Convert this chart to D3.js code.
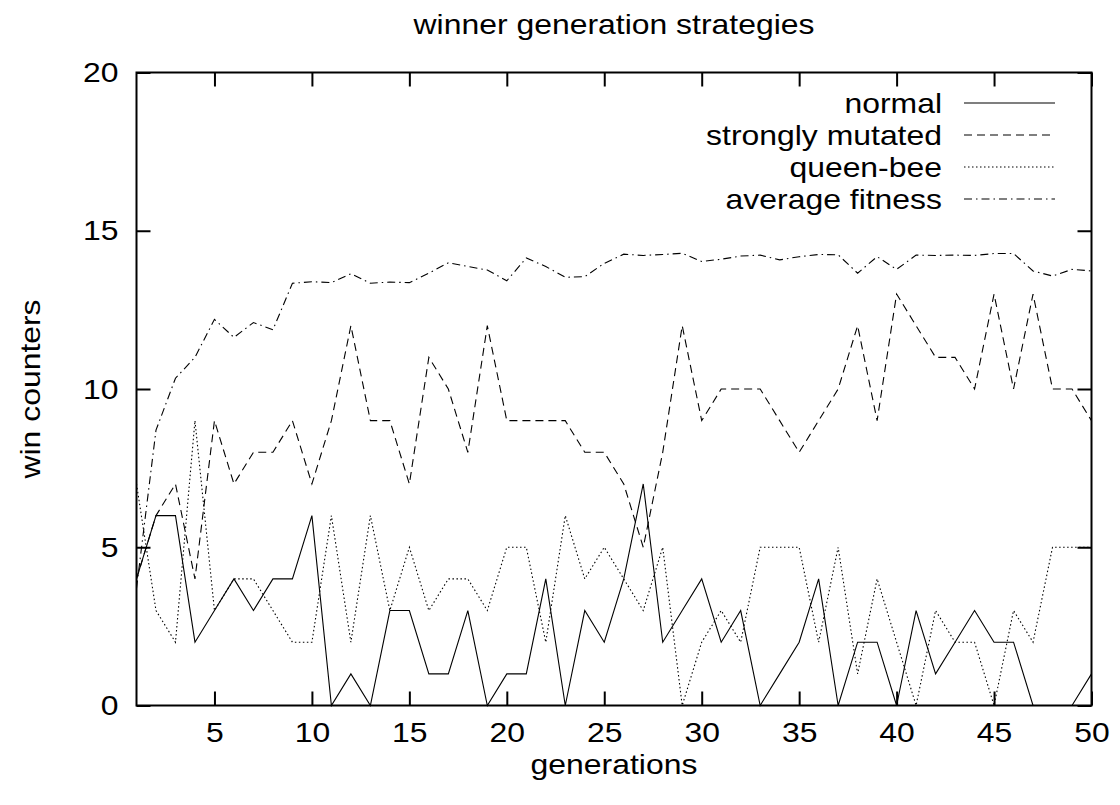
<!DOCTYPE html>
<html>
<head>
<meta charset="utf-8">
<script src="https://cdn.jsdelivr.net/npm/d3@7"></script>
<style>
  html, body { margin: 0; padding: 0; background: #fff; }
  svg { display: block; }
  text { font-family: "Liberation Sans", Arial, Helvetica, sans-serif; fill: #000; }
</style>
</head>
<body>
<svg id="chart" width="1120" height="805"></svg>
<script>
// ---- data ----
const generations = d3.range(1, 51);
const normal = [4,6,6,2,3,4,3,4,4,6, 0,1,0,3,3,1,1,3,0,1, 1,4,0,3,2,4,7,2,3,4, 2,3,0,1,2,4,0,2,2,0, 3,1,2,3,2,2,0,0,0,1];
const stronglyMutated = [4,6,7,4,9,7,8,8,9,7, 9,12,9,9,7,11,10,8,12,9, 9,9,9,8,8,7,5,8,12,9, 10,10,10,9,8,9,10,12,9,13, 12,11,11,10,13,10,13,10,10,9];
const queenBee = [7,3,2,9,3,4,4,3,2,2, 6,2,6,3,5,3,4,4,3,5, 5,2,6,4,5,4,3,5,0,2, 3,2,5,5,5,2,5,1,4,2, 0,3,2,2,0,3,2,5,5,5];
const averageFitness = [3.7,8.7,10.34,11.0,12.2,11.63,12.1,11.87,13.34,13.39, 13.36,13.64,13.34,13.38,13.36,13.66,13.99,13.87,13.76,13.42, 14.14,13.87,13.53,13.55,13.97,14.26,14.22,14.25,14.29,14.03, 14.1,14.2,14.23,14.08,14.18,14.25,14.24,13.66,14.18,13.78, 14.23,14.22,14.23,14.22,14.28,14.28,13.73,13.57,13.78,13.73];
const seriesNames = ["normal", "strongly mutated", "queen-bee", "average fitness"];
const xTicks = [5,10,15,20,25,30,35,40,45,50];
const yTicks = [0,5,10,15,20];
const titleText = "winner generation strategies";
const xLabel = "generations";
const yLabel = "win counters";

// ---- layout ----
const svg = d3.select("#chart");
const L = 136.5, R = 1091.5, T = 72.5, B = 705.5;
const FS = 28.5;      // glyph height
const SX = 1.12;      // horizontal stretch of the reference font
const x = d3.scaleLinear().domain([1, 50]).range([L, R]);
const y = d3.scaleLinear().domain([0, 20]).range([B, T]);

const dashes = ["none", "8,5", "1.5,2.5", "8,4,1.5,4"];
const series = [normal, stronglyMutated, queenBee, averageFitness];

// lines
const line = d3.line().x((d, i) => x(generations[i])).y(d => y(d));
series.forEach((s, k) => {
  svg.append("path")
    .datum(s)
    .attr("d", line)
    .attr("fill", "none")
    .attr("stroke", "#000")
    .attr("stroke-width", 1.1)
    .attr("stroke-dasharray", dashes[k]);
});

// axes (ticks inward, mirrored)
const tl = 14;
const gB = svg.append("g").attr("transform", `translate(0,${B})`)
  .call(d3.axisBottom(x).tickValues(xTicks).tickSize(-tl).tickPadding(16).tickFormat(d3.format("d")));
const gT = svg.append("g").attr("transform", `translate(0,${T})`)
  .call(d3.axisTop(x).tickValues(xTicks).tickSize(-tl).tickFormat(""));
const gL = svg.append("g").attr("transform", `translate(${L},0)`)
  .call(d3.axisLeft(y).tickValues(yTicks).tickSize(-tl).tickPadding(16).tickFormat(d3.format("d")));
const gR = svg.append("g").attr("transform", `translate(${R},0)`)
  .call(d3.axisRight(y).tickValues(yTicks).tickSize(-tl).tickFormat(""));
[gB, gT, gL, gR].forEach(g => {
  g.select(".domain").remove();
  g.selectAll(".tick line").attr("stroke", "#000").attr("stroke-width", 2);
  g.selectAll(".tick text")
    .attr("font-size", FS)
    .attr("font-family", '"Liberation Sans", Arial, sans-serif')
    .attr("fill", "#000")
    .attr("transform", `scale(${SX},1)`);
});

// border
svg.append("rect")
  .attr("x", L).attr("y", T).attr("width", R - L).attr("height", B - T)
  .attr("fill", "none").attr("stroke", "#000").attr("stroke-width", 2);

// helper for stretched text
function label(px, py, str, anchor, rot) {
  return svg.append("text")
    .attr("transform", `translate(${px},${py})${rot ? " rotate(" + rot + ")" : ""} scale(${SX},1)`)
    .attr("text-anchor", anchor)
    .attr("font-size", FS)
    .text(str);
}

// title & axis labels
label((L + R) / 2, 34, titleText, "middle");
label((L + R) / 2, 774, xLabel, "middle");
label(40, (T + B) / 2, yLabel, "middle", -90);

// legend
const legY0 = 103, legDY = 32, legTextX = 942, legX1 = 964, legX2 = 1055;
seriesNames.forEach((name, k) => {
  const yy = legY0 + k * legDY;
  label(legTextX, yy + 0.35 * FS, name, "end");
  svg.append("line").attr("x1", legX1).attr("x2", legX2).attr("y1", yy).attr("y2", yy)
    .attr("stroke", "#000").attr("stroke-width", 1.1).attr("stroke-dasharray", dashes[k]);
});
</script>
</body>
</html>
